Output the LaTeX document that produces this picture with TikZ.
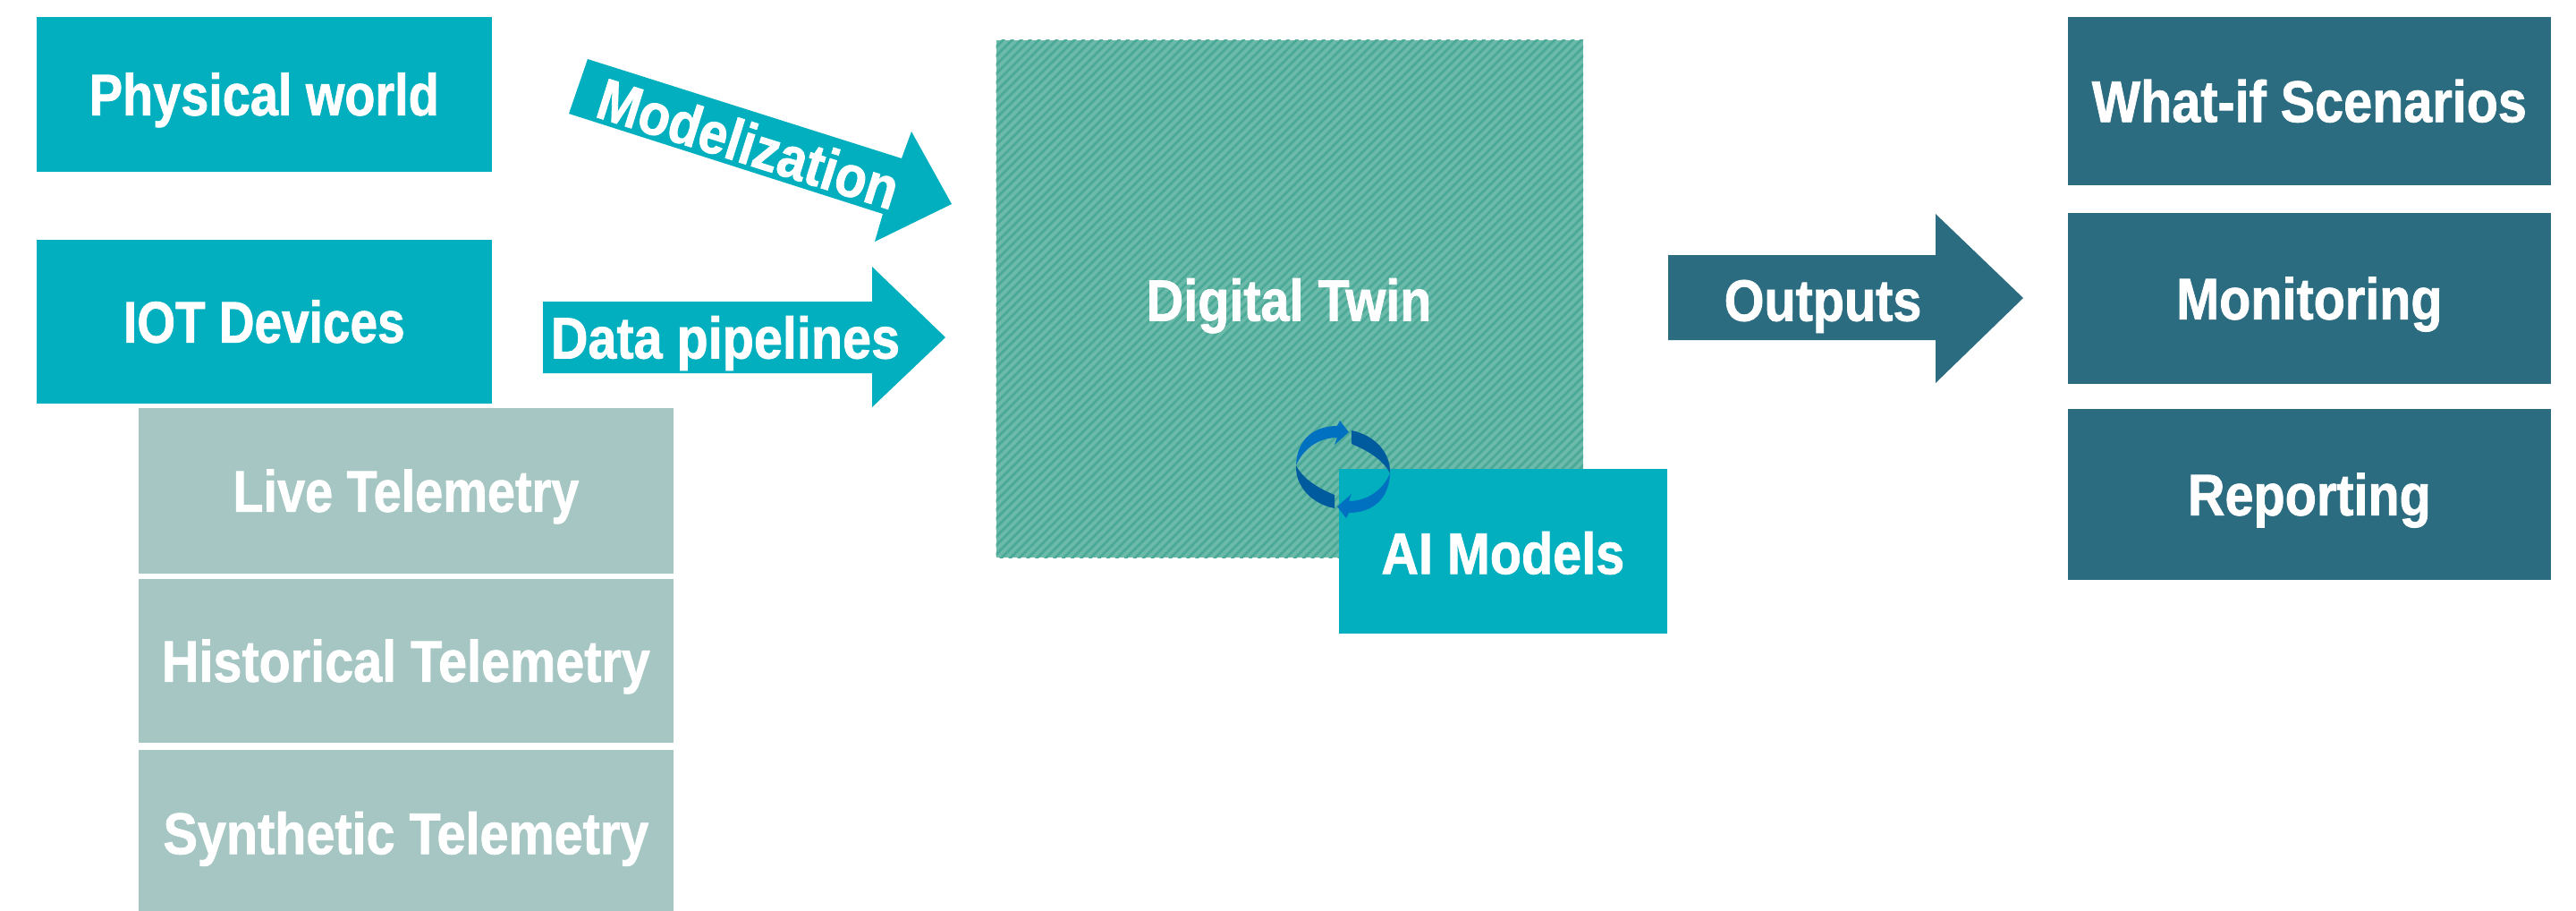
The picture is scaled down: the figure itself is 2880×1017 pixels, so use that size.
\documentclass[tikz,border=0pt]{standalone}
\usepackage{xcolor}
\usepackage{fontspec}
\setmainfont[FakeStretch=0.88,BoldFont={Liberation Sans Bold},BoldFeatures={FakeBold=1.2}]{Liberation Sans}
\usepackage{tikz}
\usetikzlibrary{patterns.meta}
\definecolor{tealbox}{HTML}{02AFBE}
\definecolor{greybox}{HTML}{A5C6C3}
\definecolor{darkbox}{HTML}{2B6C80}
\definecolor{twinbase}{HTML}{6BBAAA}
\definecolor{twinline}{HTML}{4BA998}
\definecolor{loopdark}{HTML}{005A9E}
\definecolor{looplight}{HTML}{0070C0}
\tikzset{
  label/.style={text=white,font=\fontsize{18.6}{20}\selectfont\bfseries,text height=0.47cm,text depth=0pt,inner sep=0pt},
  box/.style={fill=#1,inner sep=0pt,anchor=north west}
}
\begin{document}
\begin{tikzpicture}[x=0.01cm,y=-0.01cm]
\useasboundingbox (0,0) rectangle (2880,1017);

% left column
\node[box=tealbox,minimum width=5.09cm,minimum height=1.73cm](physical) at (40,18) {};
\node[box=tealbox,minimum width=5.09cm,minimum height=1.83cm](iot) at (40,267) {};
\node[box=greybox,minimum width=5.98cm,minimum height=1.85cm](live) at (154,455) {};
\node[box=greybox,minimum width=5.98cm,minimum height=1.83cm](historical) at (154,646) {};
\node[box=greybox,minimum width=5.98cm,minimum height=1.80cm](synthetic) at (154,837) {};
\node[label,xscale=0.97] at (physical.center) {Physical world};
\node[label,xscale=0.955] at (iot.center) {IOT Devices};
\node[label,xscale=0.97] at (live.center) {Live Telemetry};
\node[label] at (historical.center) {Historical Telemetry};
\node[label] at ([yshift=-0.03cm]synthetic.center) {Synthetic Telemetry};

% arrows
\fill[tealbox] (657,66) -- (1008,177) -- (1019,147) -- (1064,228) -- (978,270) -- (987,239) -- (636,127) -- cycle;
\fill[tealbox] (607,337) -- (975,337) -- (975,298) -- (1057,377) -- (975,455) -- (975,417) -- (607,417) -- cycle;
\fill[darkbox] (1865,285) -- (2164,285) -- (2164,239) -- (2262,333) -- (2164,428) -- (2164,380) -- (1865,380) -- cycle;
\node[label,rotate=-17.5](modelization) at (837,160) {Modelization};
\node[label](pipelines) at (811,377) {Data pipelines};
\node[label](outputs) at (2038,335) {Outputs};

% digital twin
\node[box=twinbase,minimum width=6.56cm,minimum height=5.78cm,
  postaction={pattern={Lines[angle=45,distance=2pt,line width=0.8pt]},pattern color=twinline}](twin) at (1113,44) {};
\node[label] at (1441,335) {Digital Twin};
\node[box=tealbox,minimum width=3.67cm,minimum height=1.84cm](aimodels) at (1496,523) {};
\node[label] at ([yshift=-0.02cm]aimodels.center) {AI Models};

% loop icon
\foreach\a in {0,180}
{
\begin{scope}[rotate around={\a:(1501.5,524.5)}]
\fill[looplight] (1449,520) .. controls (1450,490) and (1470,476) .. (1495,476) -- (1498,470) -- (1508,483) -- (1492,497) -- (1495,489) .. controls (1477,489) and (1458,499) .. (1449,520) -- cycle;
\fill[loopdark] (1511,481) .. controls (1536,486) and (1555,505) .. (1554,529) .. controls (1546,513) and (1528,503) .. (1511,496) -- cycle;
\end{scope}
}

% right column
\node[box=darkbox,minimum width=5.40cm,minimum height=1.88cm](whatif) at (2311,18) {};
\node[box=darkbox,minimum width=5.40cm,minimum height=1.91cm](monitoring) at (2311,237) {};
\node[box=darkbox,minimum width=5.40cm,minimum height=1.91cm](reporting) at (2311,456) {};
\node[label] at (whatif.center) {What-if Scenarios};
\node[label] at (monitoring.center) {Monitoring};
\node[label] at (reporting.center) {Reporting};
\end{tikzpicture}
\end{document}
